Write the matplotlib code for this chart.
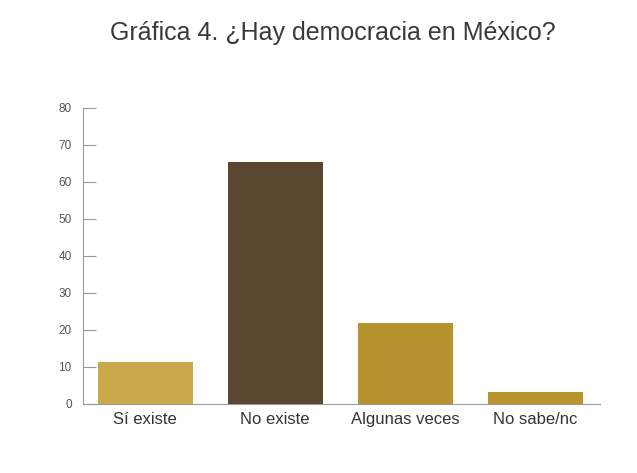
import matplotlib.pyplot as plt
from matplotlib import font_manager

categories = ["Sí existe", "No existe", "Algunas veces", "No sabe/nc"]
values = [11.4, 65.4, 21.9, 3.2]
bar_colors = ["#c9a94c", "#5b4631", "#b7932f", "#b8952f"]
yticks = [0, 10, 20, 30, 40, 50, 60, 70, 80]

names = {f.name for f in font_manager.fontManager.ttflist}
narrow = "Liberation Sans Narrow" if "Liberation Sans Narrow" in names else "Liberation Sans"
plt.rcParams['font.family'] = [narrow, 'DejaVu Sans']

fig = plt.figure(figsize=(6.37, 4.73), dpi=100)
fig.patch.set_facecolor("white")
ax = fig.add_axes([0.130, 0.146, 0.812, 0.626])

x = range(len(categories))
ax.bar(x, values, width=0.73, color=bar_colors, edgecolor="none")

ax.set_xlim(-0.48, 3.5)
ax.set_ylim(0, 80)
ax.set_yticks(yticks)
ax.set_yticklabels([str(t) for t in yticks], fontsize=8.5, color="#555555")
ax.tick_params(axis="y", direction="in", length=9, color="#999999", pad=8)
ax.set_xticks(list(x))
ax.set_xticklabels(categories, fontsize=12, color="#333333")
ax.tick_params(axis="x", length=0, pad=6)

for side in ["top", "right"]:
    ax.spines[side].set_visible(False)
ax.spines["left"].set_color("#999999")
ax.spines["bottom"].set_color("#999999")
ax.spines["left"].set_linewidth(0.8)
ax.spines["bottom"].set_linewidth(0.8)

fig.text(0.523, 0.93, "Gráfica 4. ¿Hay democracia en México?", ha="center", va="center",
         fontsize=18, color="#3a3a3a")

fig.savefig("out.png", dpi=100)
